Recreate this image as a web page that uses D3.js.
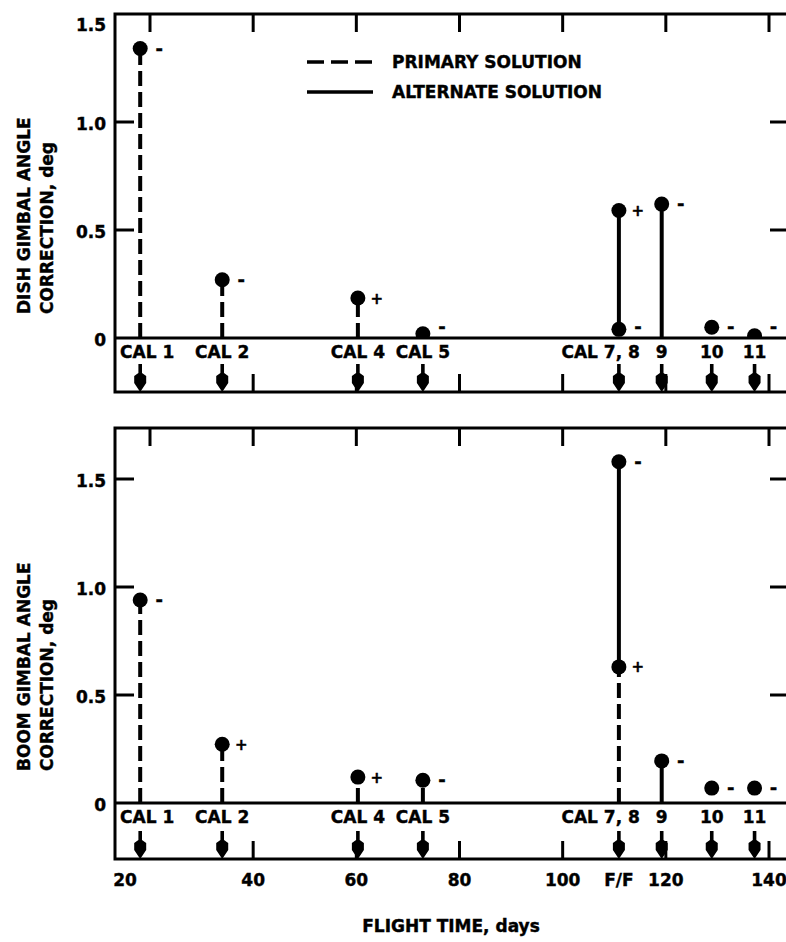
<!DOCTYPE html>
<html>
<head>
<meta charset="utf-8">
<script src="https://cdn.jsdelivr.net/npm/d3@7"></script>
<style>
  html, body { margin: 0; padding: 0; background: #fff; }
  svg { display: block; }
  text { font-family: "DejaVu Sans", sans-serif; font-weight: bold; fill: #000; stroke: #000; stroke-width: 0.4; }
</style>
</head>
<body>
<div id="chart"></div>
<script>
// calibration events along the flight
var calNames = ["CAL 1", "CAL 2", "CAL 4", "CAL 5", "CAL 7, 8", "9", "10", "11"];
var calDays  = [18.1, 34.0, 60.3, 72.9, 110.9, 119.2, 128.9, 137.2];
var xTicks = [20, 40, 60, 80, 100, 120, 140];
var ffDay = 110.9;   // F/F marker under the x axis
var yTicks = [0, 0.5, 1.0, 1.5];

// dish gimbal: points [day, value, sign], stems [day, from, to, kind]
var dishPoints = [[18.1, 1.34, "-"], [34.0, 0.27, "-"], [60.3, 0.185, "+"], [72.9, 0.02, "-"],
                  [110.9, 0.04, "-"], [110.9, 0.59, "+"], [119.2, 0.62, "-"], [128.9, 0.05, "-"], [137.2, 0.01, "-"]];
var dishStems = [[18.1, 0, 1.34, "primary"], [34.0, 0, 0.27, "primary"], [60.3, 0, 0.185, "primary"],
                 [110.9, 0.04, 0.59, "alternate"], [119.2, 0, 0.62, "alternate"]];

// boom gimbal
var boomPoints = [[18.1, 0.94, "-"], [34.0, 0.272, "+"], [60.3, 0.12, "+"], [72.9, 0.105, "-"],
                  [110.9, 1.58, "-"], [110.9, 0.63, "+"], [119.2, 0.195, "-"], [128.9, 0.069, "-"], [137.2, 0.069, "-"]];
var boomStems = [[18.1, 0, 0.94, "primary"], [34.0, 0, 0.272, "primary"], [60.3, 0, 0.12, "primary"],
                 [72.9, 0, 0.105, "primary"], [110.9, 0, 0.63, "primary"], [110.9, 0.63, 1.58, "alternate"],
                 [119.2, 0, 0.195, "alternate"]];

var width = 786, height = 942;
var left = 115, right = 790;

var svg = d3.select("#chart").append("svg")
    .attr("width", width)
    .attr("height", height);

var x = d3.scaleLinear().domain([20, 140]).range([150, 769]);

var panels = [
  {top: 14, bottom: 392, zero: 338, title: ["DISH GIMBAL ANGLE", "CORRECTION, deg"], titleY: 314,
   points: dishPoints, stems: dishStems, legend: true},
  {top: 428, bottom: 859, zero: 803, title: ["BOOM GIMBAL ANGLE", "CORRECTION, deg"], titleY: 771,
   points: boomPoints, stems: boomStems, legend: false}
];

var dashes = {primary: "15,6", alternate: null};

panels.forEach(function(p, pi) {
  var y = d3.scaleLinear().domain([0, 1.5]).range([p.zero, p.zero - 324]);
  var g = svg.append("g");

  // clip so near-zero dots sit on the zero line
  var clipId = "clip" + pi;
  svg.append("clipPath").attr("id", clipId)
    .append("rect").attr("x", left).attr("y", p.top).attr("width", right - left).attr("height", p.zero - p.top + 1);

  // frame
  g.append("rect")
    .attr("x", left).attr("y", p.top)
    .attr("width", right - left).attr("height", p.bottom - p.top)
    .attr("fill", "none").attr("stroke", "#000").attr("stroke-width", 3);

  // zero line
  g.append("line")
    .attr("x1", left).attr("x2", right)
    .attr("y1", y(0)).attr("y2", y(0))
    .attr("stroke", "#000").attr("stroke-width", 3);

  // top ticks
  g.selectAll(".ttick").data(xTicks).enter().append("line")
    .attr("x1", function(d) { return x(d); }).attr("x2", function(d) { return x(d); })
    .attr("y1", p.top).attr("y2", p.top + 18)
    .attr("stroke", "#000").attr("stroke-width", 3);

  // bottom ticks
  g.selectAll(".btick").data(xTicks.slice(1)).enter().append("line")
    .attr("x1", function(d) { return x(d); }).attr("x2", function(d) { return x(d); })
    .attr("y1", p.bottom).attr("y2", p.bottom - 18)
    .attr("stroke", "#000").attr("stroke-width", 3);

  // y ticks, both sides
  var inner = yTicks.filter(function(v) { return v > 0 && y(v) > p.top + 3; });
  g.selectAll(".ltick").data(inner).enter().append("line")
    .attr("x1", left).attr("x2", left + 19)
    .attr("y1", function(d) { return y(d); }).attr("y2", function(d) { return y(d); })
    .attr("stroke", "#000").attr("stroke-width", 3);
  g.selectAll(".rtick").data(inner).enter().append("line")
    .attr("x1", right).attr("x2", right - 20)
    .attr("y1", function(d) { return y(d); }).attr("y2", function(d) { return y(d); })
    .attr("stroke", "#000").attr("stroke-width", 3);

  g.selectAll(".ylab").data(yTicks).enter().append("text")
    .attr("x", 106)
    .attr("y", function(d) { return Math.max(y(d), p.top + 9) + 3; })
    .attr("text-anchor", "end")
    .attr("dominant-baseline", "middle")
    .attr("font-size", 17)
    .text(function(d) { return d === 0 ? "0" : d.toFixed(1); });

  // axis title, two rotated lines
  p.title.forEach(function(t, i) {
    g.append("text")
      .attr("transform", "translate(" + (25 + i * 23) + "," + p.titleY + ") rotate(-90)")
      .attr("dominant-baseline", "middle")
      .attr("font-size", 17)
      .text(t);
  });

  // stems
  g.selectAll(".stem").data(p.stems).enter().append("line")
    .attr("x1", function(d) { return x(d[0]); }).attr("x2", function(d) { return x(d[0]); })
    .attr("y1", function(d) { return y(d[1]); }).attr("y2", function(d) { return y(d[2]); })
    .attr("stroke", "#000").attr("stroke-width", 4)
    .attr("stroke-dasharray", function(d) { return dashes[d[3]]; });

  // dots
  g.append("g").attr("clip-path", "url(#" + clipId + ")")
    .selectAll("circle").data(p.points).enter().append("circle")
    .attr("cx", function(d) { return x(d[0]); })
    .attr("cy", function(d) { return y(d[1]); })
    .attr("r", 7.5)
    .attr("fill", "#000");

  // signs (kept clear of the zero line)
  g.selectAll(".sign").data(p.points).enter().append("text")
    .attr("x", function(d) { return x(d[0]) + 19; })
    .attr("y", function(d) { return Math.min(y(d[1]) + 1, y(0) - 10); })
    .attr("text-anchor", "middle")
    .attr("dominant-baseline", "middle")
    .attr("font-size", function(d) { return d[2] === "+" ? 15 : 18; })
    .text(function(d) { return d[2]; });

  // calibration labels
  g.selectAll(".cal").data(calNames).enter().append("text")
    .attr("y", y(0) + 15)
    .attr("dominant-baseline", "middle")
    .attr("font-size", 17)
    .text(function(d) { return d; })
    .each(function(d, i) {
      var el = d3.select(this);
      var cx = x(calDays[i]);
      var w = this.getComputedTextLength();
      if (d.indexOf(",") >= 0) {
        el.attr("x", cx + 21).attr("text-anchor", "end");
      } else {
        el.attr("x", Math.max(cx - w / 2, left + 5)).attr("text-anchor", "start");
      }
    });

  // arrows down to the frame
  g.selectAll(".arrow").data(calDays).enter().append("path")
    .attr("d", function(d) {
      var ax = x(d), b = p.bottom, t = b - 28;
      return "M" + (ax - 1.8) + "," + t + "L" + (ax + 1.8) + "," + t +
             "L" + (ax + 1.8) + "," + (t + 9) + "L" + (ax + 6) + "," + (t + 12) +
             "L" + (ax + 6) + "," + (t + 19) + "L" + ax + "," + b +
             "L" + (ax - 6) + "," + (t + 19) + "L" + (ax - 6) + "," + (t + 12) +
             "L" + (ax - 1.8) + "," + (t + 9) + "Z";
    })
    .attr("fill", "#000");

  if (p.legend) {
    var lg = g.append("g");
    [["primary", "PRIMARY SOLUTION", 62], ["alternate", "ALTERNATE SOLUTION", 92]].forEach(function(r) {
      lg.append("line")
        .attr("x1", 307).attr("x2", 373).attr("y1", r[2]).attr("y2", r[2])
        .attr("stroke", "#000").attr("stroke-width", 3.5)
        .attr("stroke-dasharray", r[0] === "primary" ? "17,7" : null);
      lg.append("text")
        .attr("x", 392).attr("y", r[2] + 1)
        .attr("dominant-baseline", "middle")
        .attr("font-size", 17)
        .text(r[1]);
    });
  }
});

// x tick labels under the lower panel (first one tucked against the frame)
var xlab = svg.append("g");
xlab.selectAll("text").data(xTicks).enter().append("text")
  .attr("x", function(d, i) { return i === 0 ? left + 10 : x(d); })
  .attr("y", 881)
  .attr("text-anchor", "middle")
  .attr("dominant-baseline", "middle")
  .attr("font-size", 17)
  .text(function(d) { return d; });
xlab.append("text")
  .attr("x", x(ffDay)).attr("y", 881)
  .attr("text-anchor", "middle")
  .attr("dominant-baseline", "middle")
  .attr("font-size", 17)
  .text("F/F");

svg.append("text")
  .attr("x", 451).attr("y", 927)
  .attr("text-anchor", "middle")
  .attr("dominant-baseline", "middle")
  .attr("font-size", 17)
  .text("FLIGHT TIME, days");
</script>
</body>
</html>
